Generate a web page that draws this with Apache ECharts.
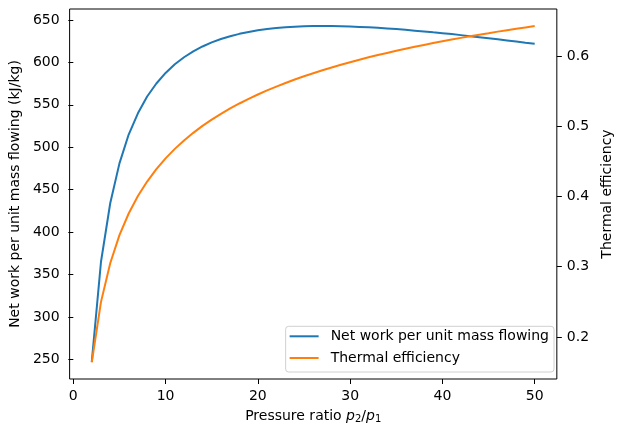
<!DOCTYPE html>
<html>
<head>
<meta charset="utf-8">
<script src="https://cdn.jsdelivr.net/npm/echarts@6/dist/echarts.min.js"></script>
<style>html,body{margin:0;padding:0;background:#fff}#c{width:622px;height:436px}</style>
</head>
<body>
<div id="c"></div>
<script>
const pressureRatio = [2,3,4,5,6,7,8,9,10,11,12,13,14,15,16,17,18,19,20,21,22,23,24,25,26,27,28,29,30,31,32,33,34,35,36,37,38,39,40,41,42,43,44,45,46,47,48,49,50];
const netWork = [247,365,434,481,515,540,559.8,575.2,587.6,597.8,606.1,613.0,618.8,623.6,627.6,630.9,633.7,636.0,637.9,639.4,640.6,641.5,642.2,642.6,642.9,643.0,642.9,642.7,642.4,641.9,641.4,640.8,640.1,639.3,638.4,637.5,636.6,635.5,634.5,633.4,632.2,631.0,629.8,628.6,627.3,626.0,624.7,623.3,622.0];
const thermalEff = [0.164,0.250,0.305,0.345,0.3758,0.4006,0.4213,0.4389,0.4542,0.4678,0.4798,0.4906,0.5005,0.5094,0.5177,0.5253,0.5324,0.5390,0.5452,0.5510,0.5564,0.5616,0.5665,0.5711,0.5755,0.5797,0.5837,0.5875,0.5912,0.5947,0.5981,0.6013,0.6044,0.6074,0.6103,0.6131,0.6158,0.6185,0.6210,0.6234,0.6258,0.6281,0.6304,0.6325,0.6347,0.6367,0.6387,0.6407,0.6426];
const xTicks = [0,10,20,30,40,50];
const leftTicks = [250,300,350,400,450,500,550,600,650];
const rightTicks = [0.2,0.3,0.4,0.5,0.6];
const seriesNames = ['Net work per unit mass flowing','Thermal efficiency'];

const chart = echarts.init(document.getElementById('c'), null, {renderer:'canvas'});
const font = 'DejaVu Sans';
const tickStyle = {show:true, inside:false, length:5, lineStyle:{color:'#000', width:1}};
chart.setOption({
  animation:false,
  backgroundColor:'#fff',
  textStyle:{fontFamily:font},
  grid:{left:67, right:59.5, top:9, bottom:57, show:true, borderColor:'#000', borderWidth:1, backgroundColor:'transparent'},
  legend:{
    orient:'vertical', right:68, bottom:64,
    data:seriesNames.map(n=>({name:n, icon:'rect'})),
    itemWidth:29, itemHeight:2, itemGap:7.7,
    padding:[3,5,7,4],
    borderColor:'#d0d0d0', borderWidth:1, borderRadius:3,
    backgroundColor:'rgba(255,255,255,0.8)',
    textStyle:{fontFamily:font, fontSize:14, color:'#000', padding:[0,0,0,7]}
  },
  xAxis:{
    type:'value', min:-0.4, max:52.4,
    axisLine:{show:false},
    splitLine:{show:false},
    axisTick:Object.assign({customValues:xTicks}, tickStyle),
    axisLabel:{customValues:xTicks, fontSize:14, color:'#000', margin:10, fontFamily:font},
    name:'Pressure ratio {i|p}{s|2}/{i|p}{s|1}',
    nameLocation:'middle', nameGap:29,
    nameTextStyle:{fontSize:14, color:'#000', fontFamily:font,
      rich:{i:{fontStyle:'italic', fontSize:14, fontFamily:font, color:'#000'},
            s:{fontSize:10, fontFamily:font, color:'#000', verticalAlign:'bottom', padding:[6,0,0,0]}}}
  },
  yAxis:[{
    type:'value', position:'left', min:226.8, max:663,
    axisLine:{show:false}, splitLine:{show:false},
    axisTick:Object.assign({customValues:leftTicks}, tickStyle),
    axisLabel:{customValues:leftTicks, fontSize:14, color:'#000', margin:10, fontFamily:font},
    name:'Net work per unit mass flowing (kJ/kg)', nameLocation:'middle', nameGap:42,
    nameTextStyle:{fontSize:14, color:'#000', fontFamily:font}
  },{
    type:'value', position:'right', min:0.1402, max:0.6669,
    axisLine:{show:false}, splitLine:{show:false},
    axisTick:Object.assign({customValues:rightTicks}, tickStyle),
    axisLabel:{customValues:rightTicks, fontSize:14, color:'#000', margin:10, fontFamily:font, formatter:v=>v.toFixed(1)},
    name:'Thermal efficiency', nameLocation:'middle', nameGap:35,
    nameTextStyle:{fontSize:14, color:'#000', fontFamily:font}
  }],
  series:[{
    name:seriesNames[0], type:'line', yAxisIndex:0, showSymbol:false, symbol:'none',
    data:pressureRatio.map((p,i)=>[p, netWork[i]]),
    lineStyle:{color:'#1f77b4', width:2}, itemStyle:{color:'#1f77b4'}
  },{
    name:seriesNames[1], type:'line', yAxisIndex:1, showSymbol:false, symbol:'none',
    data:pressureRatio.map((p,i)=>[p, thermalEff[i]]),
    lineStyle:{color:'#ff7f0e', width:2}, itemStyle:{color:'#ff7f0e'}
  }]
});
</script>
</body>
</html>
